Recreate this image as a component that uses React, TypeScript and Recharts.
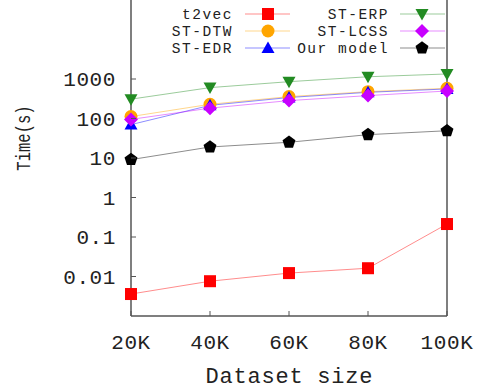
import { LineChart, Line, XAxis, YAxis, Legend, ReferenceLine, Label } from 'recharts';

// dataset sizes (K) and run times in seconds
const sizes = [20, 40, 60, 80, 100];
const t2vec = [0.0036, 0.0076, 0.0122, 0.0162, 0.213];
const stDtw = [112, 229, 358, 479, 582];
const stEdr = [70, 215, 340, 460, 560];
const stErp = [309, 605, 855, 1140, 1340];
const stLcss = [95, 183, 284, 380, 497];
const ourModel = [9.1, 19, 25, 39, 49];
const yTicks = [0.01, 0.1, 1, 10, 100, 1000];

const FONT = '"Liberation Mono", "Courier New", monospace';
const AXIS = '#555';
const TEXT = '#222';

type Shape = 'square' | 'circle' | 'triUp' | 'triDown' | 'diamond' | 'pentagon';

const series: { key: string; name: string; color: string; shape: Shape }[] = [
  { key: 't2vec', name: 't2vec', color: '#ff0000', shape: 'square' },
  { key: 'dtw', name: 'ST-DTW', color: '#ffa500', shape: 'circle' },
  { key: 'edr', name: 'ST-EDR', color: '#0000ff', shape: 'triUp' },
  { key: 'erp', name: 'ST-ERP', color: '#228b22', shape: 'triDown' },
  { key: 'lcss', name: 'ST-LCSS', color: '#c800ff', shape: 'diamond' },
  { key: 'ours', name: 'Our model', color: '#000000', shape: 'pentagon' },
];

const data = sizes.map((s, i) => ({
  size: s,
  t2vec: t2vec[i],
  dtw: stDtw[i],
  edr: stEdr[i],
  erp: stErp[i],
  lcss: stLcss[i],
  ours: ourModel[i],
}));

const Marker = ({ shape, cx, cy, color }: { shape: Shape; cx: number; cy: number; color: string }) => {
  switch (shape) {
    case 'square':
      return <rect x={cx - 6} y={cy - 6} width={12} height={12} fill={color} />;
    case 'circle':
      return <circle cx={cx} cy={cy} r={6.5} fill={color} />;
    case 'triUp':
      return <polygon points={`${cx},${cy - 6.5} ${cx + 6.5},${cy + 5} ${cx - 6.5},${cy + 5}`} fill={color} />;
    case 'triDown':
      return <polygon points={`${cx - 6.5},${cy - 5} ${cx + 6.5},${cy - 5} ${cx},${cy + 6.5}`} fill={color} />;
    case 'diamond':
      return <polygon points={`${cx},${cy - 7} ${cx + 7},${cy} ${cx},${cy + 7} ${cx - 7},${cy}`} fill={color} />;
    default: {
      const pts = [0, 1, 2, 3, 4]
        .map(k => {
          const a = (-90 + k * 72) * Math.PI / 180;
          return `${cx + 6.8 * Math.cos(a)},${cy + 6.8 * Math.sin(a)}`;
        })
        .join(' ');
      return <polygon points={pts} fill={color} />;
    }
  }
};

const XTick = (props: any) => {
  const { x, y, payload } = props;
  return (
    <g>
      <line x1={x} y1={y} x2={x} y2={y - 5} stroke={AXIS} />
      <text x={x} y={y + 33} textAnchor="middle" fontFamily={FONT} fontSize={21} letterSpacing={0.6} fill={TEXT}>
        {`${payload.value}K`}
      </text>
    </g>
  );
};

const YTick = (props: any) => {
  const { x, y, payload } = props;
  return (
    <g>
      <line x1={x} y1={y} x2={x + 5} y2={y} stroke={AXIS} />
      <text x={x - 15} y={y + 7} textAnchor="end" fontFamily={FONT} fontSize={21} letterSpacing={0.6} fill={TEXT}>
        {String(payload.value)}
      </text>
    </g>
  );
};

const legendCols = [
  { textEnd: 233, lineStart: 245, lineEnd: 290, mark: 268 },
  { textEnd: 389, lineStart: 400, lineEnd: 445, mark: 422 },
];
const legendRows = [14, 31, 48];

const renderLegend = () => (
  <svg width={483} height={60}>
    {series.map((s, i) => {
      const c = legendCols[Math.floor(i / 3)];
      const y = legendRows[i % 3];
      return (
        <g key={s.key}>
          <text
            x={c.textEnd}
            y={y + 5}
            textAnchor="end"
            fontFamily={FONT}
            fontSize={14.5}
            letterSpacing={1.5}
            fill={TEXT}
          >
            {s.name}
          </text>
          <line x1={c.lineStart} y1={y} x2={c.lineEnd} y2={y} stroke={s.color} strokeOpacity={0.45} />
          <Marker shape={s.shape} cx={c.mark} cy={y} color={s.color} />
        </g>
      );
    })}
  </svg>
);

export default function App() {
  return (
    <div style={{ position: 'absolute', left: 0, top: 0, background: '#fff' }}>
      <LineChart width={483} height={391} data={data} margin={{ top: 0, right: 36, bottom: 0, left: 0 }}>
        <XAxis
          dataKey="size"
          type="number"
          domain={[20, 100]}
          ticks={sizes}
          height={75}
          tickSize={0}
          tickMargin={0}
          axisLine={{ stroke: AXIS, strokeWidth: 1.5 }}
          tickLine={false}
          tick={<XTick />}
          interval={0}
        >
          <Label
            content={({ viewBox }: any) => (
              <text
                x={viewBox.x + viewBox.width / 2}
                y={viewBox.y + 67}
                textAnchor="middle"
                fontFamily={FONT}
                fontSize={22}
                textLength={167}
                lengthAdjust="spacing"
                fill={TEXT}
              >
                Dataset size
              </text>
            )}
          />
        </XAxis>
        <YAxis
          scale="log"
          domain={[0.001, 100000]}
          ticks={yTicks}
          allowDataOverflow
          width={131}
          tickSize={0}
          tickMargin={0}
          axisLine={{ stroke: AXIS, strokeWidth: 1.5 }}
          tickLine={false}
          tick={<YTick />}
          interval={0}
        >
          <Label
            content={() => (
              <g transform="translate(30, 138) rotate(-90) scale(0.74, 1)">
                <text x={0} y={0} textAnchor="middle" fontFamily={FONT} fontSize={21} fill={TEXT}>
                  Time(s)
                </text>
              </g>
            )}
          />
        </YAxis>
        <ReferenceLine x={100} stroke={AXIS} strokeWidth={1.5} />
        <Legend
          content={renderLegend}
          layout="vertical"
          align="center"
          verticalAlign="middle"
          wrapperStyle={{ left: 0, top: 0, width: 483, height: 60 }}
        />
        {series.map(s => (
          <Line
            key={s.key}
            dataKey={s.key}
            name={s.name}
            stroke={s.color}
            strokeOpacity={0.45}
            strokeWidth={1}
            isAnimationActive={false}
            dot={(p: any) => (
              <Marker key={`${s.key}-${p.index}`} shape={s.shape} cx={p.cx} cy={p.cy} color={s.color} />
            )}
            activeDot={false}
          />
        ))}
      </LineChart>
    </div>
  );
}
